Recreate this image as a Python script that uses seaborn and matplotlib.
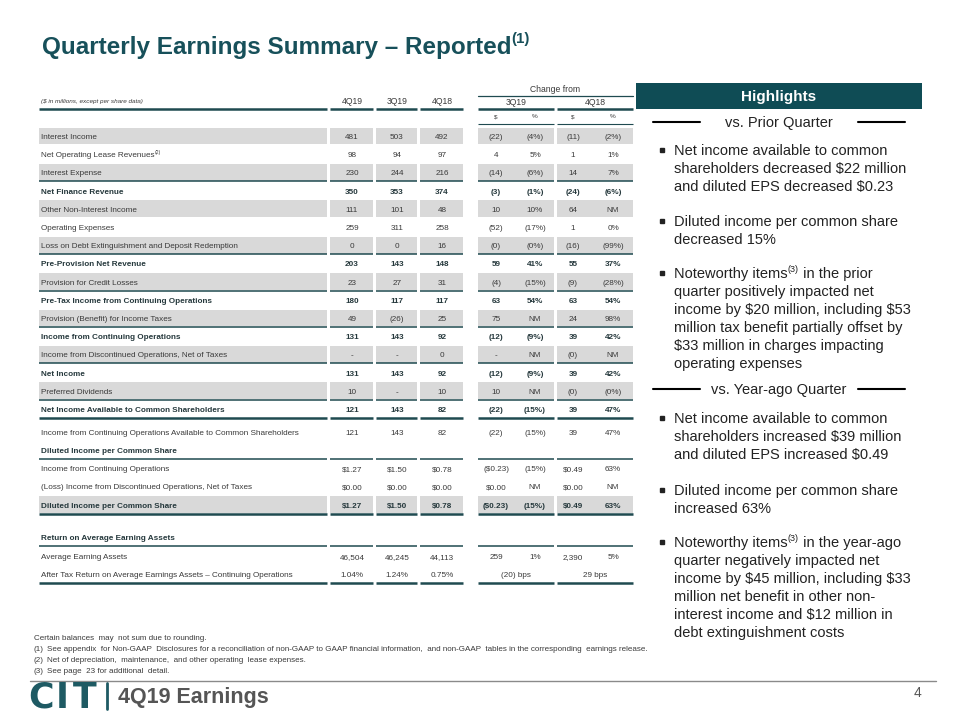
import re
import numpy as np
import seaborn as sns
import matplotlib.pyplot as plt
from matplotlib.patches import Rectangle

sns.set_theme(style="white")
plt.rcParams['font.family'] = ['Liberation Sans', 'DejaVu Sans']

# ---- table data ----
labels = [
    "Interest Income",
    "Net Operating Lease Revenues^(2)",
    "Interest Expense",
    "Net Finance Revenue",
    "Other Non-Interest Income",
    "Operating Expenses",
    "Loss on Debt Extinguishment and Deposit Redemption",
    "Pre-Provision Net Revenue",
    "Provision for Credit Losses",
    "Pre-Tax Income from Continuing Operations",
    "Provision (Benefit) for Income Taxes",
    "Income from Continuing Operations",
    "Income from Discontinued Operations, Net of Taxes",
    "Net Income",
    "Preferred Dividends",
    "Net Income Available to Common Shareholders",
    "Income from Continuing Operations Available to Common Shareholders",
    "Diluted Income per Common Share",
    "Income from Continuing Operations",
    "(Loss) Income from Discontinued Operations, Net of Taxes",
    "Diluted Income per Common Share",
    "Return on Average Earning Assets",
    "Average Earning Assets",
    "After Tax Return on Average Earnings Assets \u2013 Continuing Operations",
]
row_kind = ["shade", "plain", "shade", "bold", "shade", "plain", "shade", "bold",
            "shade", "bold", "shade", "bold", "shade", "bold", "shade", "bold",
            "plain", "head", "plain", "plain", "boldshade", "head", "plain", "plain"]

q_4q19 = ["481", "98", "230", "350", "111", "259", "0", "203", "23", "180", "49", "131",
          "-", "131", "10", "121", "121", "", "$1.27", "$0.00", "$1.27", "", "46,504", "1.04%"]
q_3q19 = ["503", "94", "244", "353", "101", "311", "0", "143", "27", "117", "(26)", "143",
          "-", "143", "-", "143", "143", "", "$1.50", "$0.00", "$1.50", "", "46,245", "1.24%"]
q_4q18 = ["492", "97", "216", "374", "48", "258", "16", "148", "31", "117", "25", "92",
          "0", "92", "10", "82", "82", "", "$0.78", "$0.00", "$0.78", "", "44,113", "0.75%"]
chg_3q19_usd = ["(22)", "4", "(14)", "(3)", "10", "(52)", "(0)", "59", "(4)", "63", "75", "(12)",
                "-", "(12)", "10", "(22)", "(22)", "", "($0.23)", "$0.00", "($0.23)", "", "259", "(20) bps"]
chg_3q19_pct = ["(4%)", "5%", "(6%)", "(1%)", "10%", "(17%)", "(0%)", "41%", "(15%)", "54%", "NM", "(9%)",
                "NM", "(9%)", "NM", "(15%)", "(15%)", "", "(15%)", "NM", "(15%)", "", "1%", ""]
chg_4q18_usd = ["(11)", "1", "14", "(24)", "64", "1", "(16)", "55", "(9)", "63", "24", "39",
                "(0)", "39", "(0)", "39", "39", "", "$0.49", "$0.00", "$0.49", "", "2,390", "29 bps"]
chg_4q18_pct = ["(2%)", "1%", "7%", "(6%)", "NM", "0%", "(99%)", "37%", "(28%)", "54%", "98%", "42%",
                "NM", "42%", "(0%)", "47%", "47%", "", "63%", "NM", "63%", "", "5%", ""]

period_heads = ["4Q19", "3Q19", "4Q18"]
change_heads = ["3Q19", "4Q18"]

prior_q_bullets = [
    ["Net income available to common", "shareholders decreased $22 million", "and diluted EPS decreased $0.23"],
    ["Diluted income per common share", "decreased 15%"],
    ["Noteworthy items^(3) in the prior", "quarter positively impacted net",
     "income by $20 million, including $53", "million tax benefit partially offset by",
     "$33 million in charges impacting", "operating expenses"],
]
year_q_bullets = [
    ["Net income available to common", "shareholders increased $39 million", "and diluted EPS increased $0.49"],
    ["Diluted income per common share", "increased 63%"],
    ["Noteworthy items^(3) in the year-ago", "quarter negatively impacted net",
     "income by $45 million, including $33", "million net benefit in other non-",
     "interest income and $12 million in", "debt extinguishment costs"],
]
footnotes = [
    ("", "Certain balances  may  not sum due to rounding."),
    ("(1)", "See appendix  for Non-GAAP  Disclosures for a reconciliation of non-GAAP to GAAP financial information,  "
            "and non-GAAP  tables in the corresponding  earnings release."),
    ("(2)", "Net of depreciation,  maintenance,  and other operating  lease expenses."),
    ("(3)", "See page  23 for additional  detail."),
]

TEAL = "#17505a"
LINE = "#1f4a50"
GRAY = "#d9d9d9"
TXT = "#3a3a3a"
TFONT = ['Liberation Sans', 'DejaVu Sans']
FS = 5.9

fig = plt.figure(figsize=(9.6, 7.2), dpi=100)
ax = fig.add_axes([0, 0, 1, 1])
ax.set_xlim(0, 960)
ax.set_ylim(720, 0)
ax.axis("off")
renderer = fig.canvas.get_renderer()


def txt(x, y, s, size, ha="left", color=TXT, weight="normal", family=None, **kw):
    # y is the middle of the capitals; place on the baseline so all rows line up
    return ax.text(x, y + 0.36 * size * 100 / 72, s, fontsize=size, ha=ha, va="baseline",
                   color=color, fontweight=weight,
                   family=family or plt.rcParams['font.family'], parse_math=False, **kw)


def rich(x, y, s, size, **kw):
    # left aligned text with ^(n) superscripts
    parts = re.split(r"\^(\(\d\))", s)
    cur = x
    for k, p in enumerate(parts):
        if not p:
            continue
        if k % 2:
            t = txt(cur, y - 0.3 * size * 100 / 72, p, size * 0.62, **kw)
        else:
            t = txt(cur, y, p, size, **kw)
        bb = t.get_window_extent(renderer)
        cur = ax.transData.inverted().transform((bb.x1, bb.y0))[0]


# title
rich(42, 45, "Quarterly Earnings Summary \u2013 Reported^(1)", 17.5, color=TEAL, weight="bold")

# column layout
segs = [(39, 327), (330, 373), (376, 417), (420, 463), (478, 554), (557, 633)]
col_x = [352, 397, 442, 496, 535, 573, 613]
grp_x = [(segs[4][0] + segs[4][1]) / 2, (segs[5][0] + segs[5][1]) / 2]


def hline(y, lw, which=None, color=LINE):
    for i, (a, b) in enumerate(segs):
        if which is None or i in which:
            ax.plot([a, b], [y, y], color=color, lw=lw, solid_capstyle="butt")


# header
txt(41, 101, "($ in millions, except per share data)", 4.6, family=TFONT, style="italic")
for x, h in zip(col_x[:3], period_heads):
    txt(x, 101, h, 6.2, ha="center", family=TFONT)
txt(sum(grp_x) / 2, 89, "Change from", 6.2, ha="center", family=TFONT)
ax.plot([segs[4][0], segs[5][1]], [96, 96], color=LINE, lw=0.9)
for x, h in zip(grp_x, change_heads):
    txt(x, 102, h, 6.2, ha="center", family=TFONT)
hline(108.5, 1.8)
for x, h in zip(col_x[3:], ["$", "%", "$", "%"]):
    txt(x, 116, h, 4.6, ha="center", family=TFONT)
hline(123.5, 0.8, which=[4, 5])

# row positions
step = 18.2
ys = []
y = 136
for i in range(len(labels)):
    if i == 16:
        y += 4.7
    if i == 21:
        y += 14.5
    ys.append(y)
    y += step

cols = [q_4q19, q_3q19, q_4q18, chg_3q19_usd, chg_3q19_pct, chg_4q18_usd, chg_4q18_pct]
for i, (lab, kind, y) in enumerate(zip(labels, row_kind, ys)):
    if "shade" in kind:
        for a, b in segs:
            ax.add_patch(Rectangle((a, y - 8.4), b - a, 16.8, color=GRAY, lw=0))
    bold = "bold" in kind or kind == "head"
    w = "bold" if bold else "normal"
    c = "#26393d" if bold else TXT
    rich(41, y, lab, FS, color=c, weight=w, family=TFONT)
    for j, (x, col) in enumerate(zip(col_x, cols)):
        s = col[i]
        if not s:
            continue
        if j in (3, 5) and cols[j + 1][i] == "" and "bps" in s:
            x = grp_x[0] if j == 3 else grp_x[1]
        txt(x, y, s, FS, ha="center", color=c, weight=w, family=TFONT)
    if kind == "bold":
        hline(y - step / 2, 1.1)
    if i in (15, 20, 23):
        hline(y + step / 2, 1.8)
    if kind == "head":
        hline(y + step / 2, 1.1)

# highlights panel
ax.add_patch(Rectangle((636, 83), 286, 26, color="#0f4c55", lw=0))
txt(779, 96, "Highlights", 11, ha="center", color="white", weight="bold")


def section(y, title, bullets, starts):
    txt(779, y, title, 10.5, ha="center", color="#222222")
    ax.plot([653, 700], [y, y], color="black", lw=1.5)
    ax.plot([858, 905], [y, y], color="black", lw=1.5)
    for lines, y0 in zip(bullets, starts):
        ax.plot([662], [y0], marker="s", ms=3.0, color="#222222")
        for k, line in enumerate(lines):
            rich(674, y0 + 18 * k, line, 10.5, color="#222222")


section(122, "vs. Prior Quarter", prior_q_bullets, [150, 221, 273])
section(389, "vs. Year-ago Quarter", year_q_bullets, [418, 490, 542])

# footnotes
for k, (tag, note) in enumerate(footnotes):
    yy = 637 + 11 * k
    if tag:
        txt(34, yy, tag, 5.8)
        txt(47, yy, note, 5.8)
    else:
        txt(34, yy, note, 5.8)

# footer
ax.plot([30, 936], [681, 681], color="#8a8a8a", lw=1)
for x, ch in zip([41, 62, 85], "CIT"):
    txt(x, 695, ch, 25, ha="center", color="#1e5a63", weight="bold", family="DejaVu Sans")
ax.plot([107, 107], [683, 709], color="#1e5a63", lw=2)
txt(118, 695, "4Q19 Earnings", 15.5, color="#555555", weight="bold")
txt(918, 692, "4", 10, ha="center", color="#555555")

fig.savefig("out.png", dpi=100)
